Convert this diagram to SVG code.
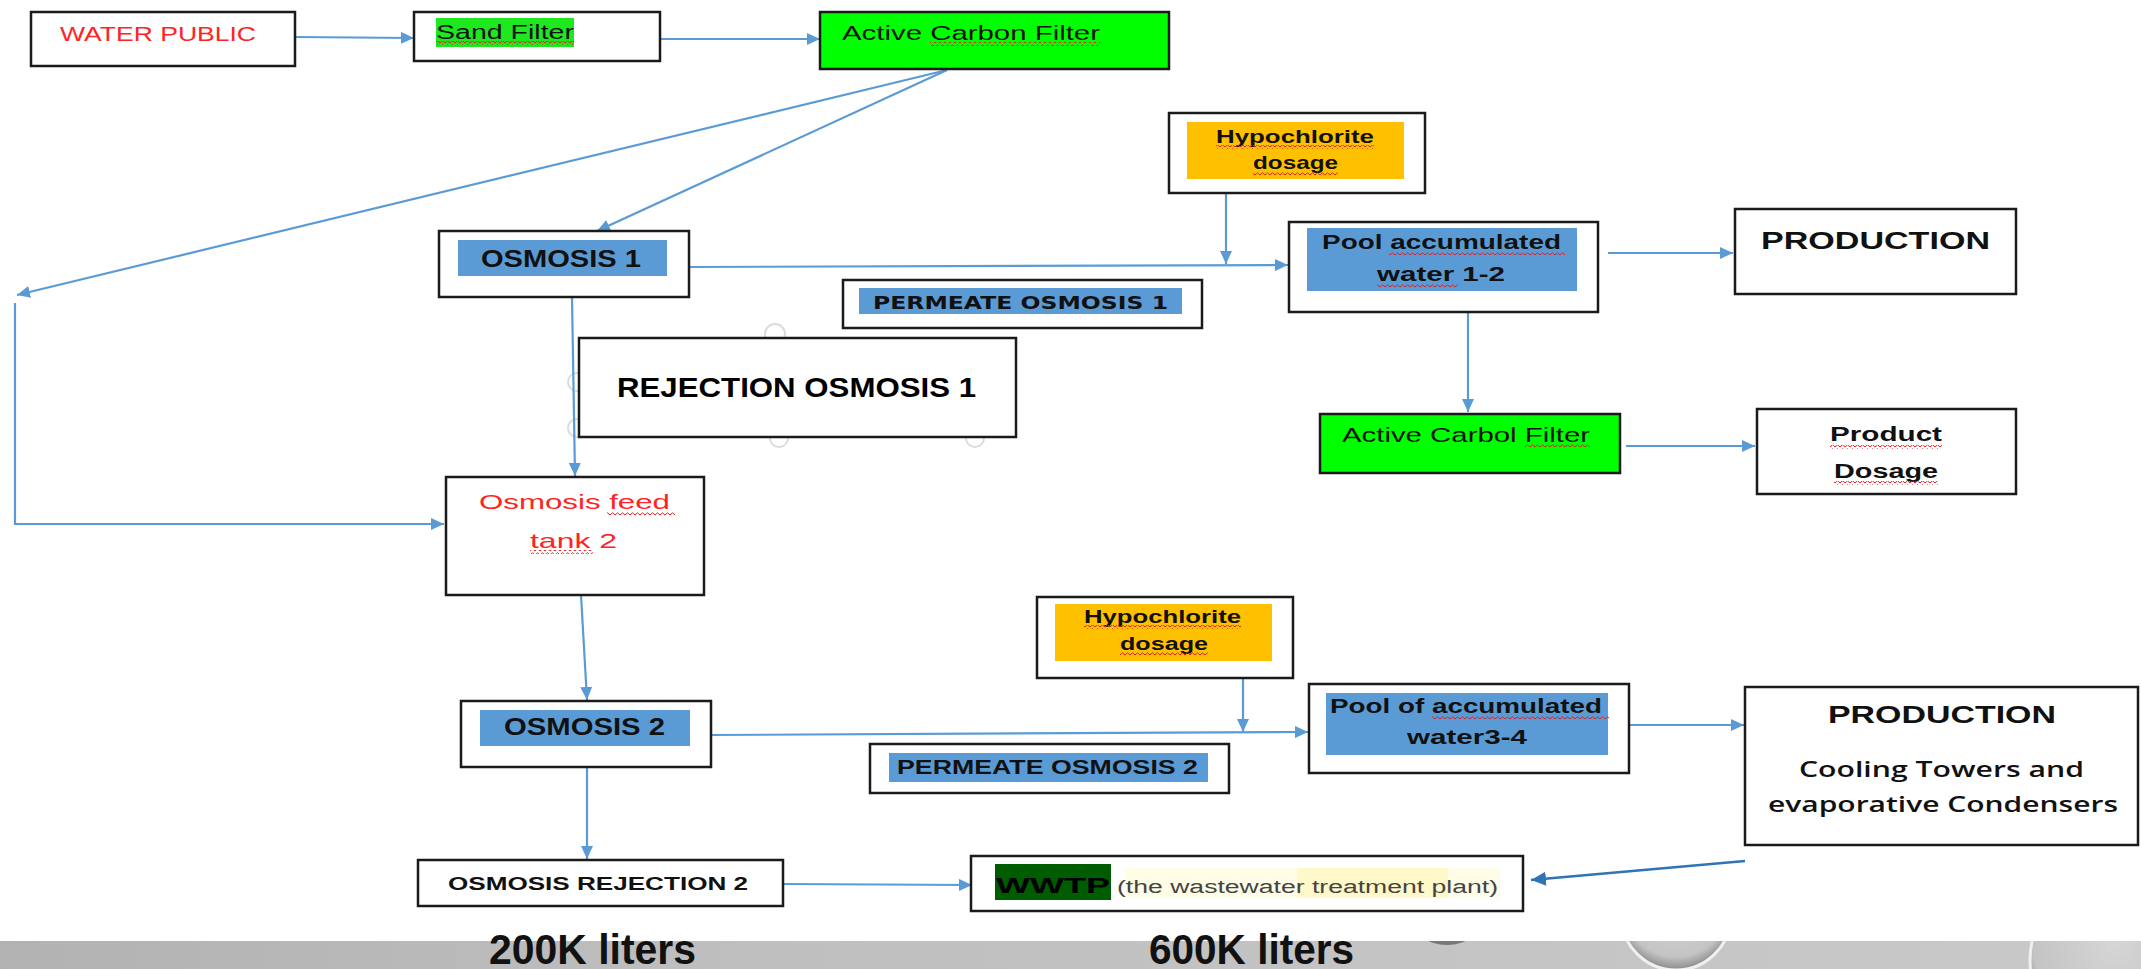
<svg xmlns="http://www.w3.org/2000/svg" width="2141" height="969" viewBox="0 0 2141 969">
<defs>
<style>
.box{fill:#fff;stroke:#1a1a1a;stroke-width:2.5}
.green{fill:#00ff00}
.blue{fill:#5b9bd5}
.orange{fill:#ffc000}
.c{fill:none;stroke:#5b9bd5;stroke-width:2.2}
.t{font-family:"Liberation Sans",Arial,sans-serif;fill:#111}
.b{font-weight:bold}
.red{fill:#ff2323}
.sq{fill:url(#squig)}
</style>
<pattern id="squig" x="0" y="0" width="5" height="4" patternUnits="userSpaceOnUse">
<path d="M0,3 L2.5,0.8 L5,3" fill="none" stroke="#e02020" stroke-width="1"/>
</pattern>
<marker id="ah" markerUnits="userSpaceOnUse" markerWidth="14" markerHeight="12" refX="13" refY="6" orient="auto">
<path d="M0,0 L13,6 L0,12 z" fill="#5b9bd5"/>
</marker>
<marker id="ah2" markerUnits="userSpaceOnUse" markerWidth="16" markerHeight="14" refX="15" refY="7" orient="auto">
<path d="M0,0 L15,7 L0,14 z" fill="#2e75b6"/>
</marker>
<linearGradient id="band" x1="0" y1="0" x2="1" y2="0">
<stop offset="0" stop-color="#b2b2b2"/>
<stop offset="0.35" stop-color="#bfbfbf"/>
<stop offset="1" stop-color="#c9c9c9"/>
</linearGradient>
<radialGradient id="bub" cx="0.5" cy="0.4" r="0.6">
<stop offset="0" stop-color="#d6d6d6"/>
<stop offset="0.8" stop-color="#c4c4c4"/>
<stop offset="1" stop-color="#8a8a8a"/>
</radialGradient>
<clipPath id="bandclip"><rect x="0" y="941" width="2141" height="28"/></clipPath>
</defs>

<rect x="0" y="0" width="2141" height="969" fill="#ffffff"/>

<g id="background">
<rect x="0" y="941" width="2141" height="28" fill="url(#band)"/>
<g clip-path="url(#bandclip)">
<ellipse cx="1447" cy="936" rx="22" ry="9" fill="#5a5a5a" opacity="0.7"/>
<circle cx="1676" cy="915" r="55" fill="url(#bub)" stroke="#f0f0f0" stroke-width="3"/>
<circle cx="2115" cy="960" r="85" fill="url(#bub)" stroke="#efefef" stroke-width="3"/>
</g>
<g fill="none" stroke="#dcdcdc" stroke-width="2">
<circle cx="775" cy="334" r="10"/>
<circle cx="577" cy="382" r="9"/>
<circle cx="577" cy="428" r="9"/>
<circle cx="779" cy="438" r="9"/>
<circle cx="975" cy="438" r="9"/>
</g>
<text class="t b" x="489" y="964" font-size="42" textLength="207" lengthAdjust="spacingAndGlyphs">200K liters</text>
<text class="t b" x="1149" y="964" font-size="42" textLength="205" lengthAdjust="spacingAndGlyphs">600K liters</text>
</g>

<g id="connectors">
<line class="c" x1="295" y1="37" x2="414" y2="38" marker-end="url(#ah)"/>
<line class="c" x1="660" y1="39" x2="820" y2="39" marker-end="url(#ah)"/>
<line class="c" x1="947" y1="70" x2="17" y2="295" marker-end="url(#ah)"/>
<line class="c" x1="947" y1="70" x2="597" y2="231" marker-end="url(#ah)"/>
<polyline class="c" points="15,303 15,524 444,524" marker-end="url(#ah)"/>
<line class="c" x1="689" y1="267" x2="1288" y2="265" marker-end="url(#ah)"/>
<line class="c" x1="1226" y1="193" x2="1226" y2="264" marker-end="url(#ah)"/>
<line class="c" x1="1608" y1="253" x2="1733" y2="253" marker-end="url(#ah)"/>
<line class="c" x1="1468" y1="310" x2="1468" y2="412" marker-end="url(#ah)"/>
<line class="c" x1="1626" y1="446" x2="1755" y2="446" marker-end="url(#ah)"/>
<line class="c" x1="572" y1="297" x2="575" y2="476" marker-end="url(#ah)"/>
<line class="c" x1="581" y1="595" x2="587" y2="700" marker-end="url(#ah)"/>
<line class="c" x1="711" y1="735" x2="1308" y2="732" marker-end="url(#ah)"/>
<line class="c" x1="1243" y1="678" x2="1243" y2="732" marker-end="url(#ah)"/>
<line class="c" x1="1621" y1="725" x2="1744" y2="725" marker-end="url(#ah)"/>
<line class="c" x1="587" y1="767" x2="587" y2="859" marker-end="url(#ah)"/>
<line class="c" x1="783" y1="884" x2="972" y2="885" marker-end="url(#ah)"/>
<line x1="1745" y1="861" x2="1531" y2="880" stroke="#2e75b6" stroke-width="2.6" marker-end="url(#ah2)"/>
</g>

<g id="water-public">
<rect class="box" x="31" y="12" width="264" height="54"/>
<text class="t red" x="60" y="41" font-size="20" textLength="196" lengthAdjust="spacingAndGlyphs">WATER PUBLIC</text>
</g>

<g id="sand-filter">
<rect class="box" x="414" y="12" width="246" height="49"/>
<rect x="436" y="18" width="138" height="29" fill="#1ee81e"/>
<text class="t" x="436" y="39" font-size="20" textLength="138" lengthAdjust="spacingAndGlyphs">Sand Filter</text>
<rect class="sq" x="436" y="41" width="138" height="4"/>
</g>

<g id="active-carbon-filter">
<rect class="box green" x="820" y="12" width="349" height="57"/>
<text class="t" x="842" y="40" font-size="20" textLength="258" lengthAdjust="spacingAndGlyphs">Active Carbon Filter</text>
<rect class="sq" x="930" y="42" width="170" height="4"/>
</g>

<g id="hypochlorite-dosage-1">
<rect class="box" x="1169" y="113" width="256" height="80"/>
<rect class="orange" x="1187" y="122" width="217" height="57"/>
<text class="t b" x="1216" y="143" font-size="19" textLength="158" lengthAdjust="spacingAndGlyphs">Hypochlorite</text>
<text class="t b" x="1253" y="169" font-size="19" textLength="85" lengthAdjust="spacingAndGlyphs">dosage</text>
<rect class="sq" x="1216" y="145" width="158" height="4"/>
<rect class="sq" x="1253" y="172" width="85" height="4"/>
</g>

<g id="osmosis-1">
<rect class="box" x="439" y="231" width="250" height="66"/>
<rect class="blue" x="458" y="240" width="209" height="36"/>
<text class="t b" x="481" y="267" font-size="23" textLength="160" lengthAdjust="spacingAndGlyphs">OSMOSIS 1</text>
</g>

<g id="permeate-osmosis-1">
<rect class="box" x="843" y="280" width="359" height="48"/>
<rect class="blue" x="859" y="288" width="323" height="26"/>
<text class="t b" x="873" y="309" font-size="17" textLength="295" lengthAdjust="spacingAndGlyphs" style="font-family:'DejaVu Sans',Verdana,sans-serif">PERMEATE OSMOSIS 1</text>
</g>

<g id="pool-accumulated-1-2">
<rect class="box" x="1289" y="222" width="309" height="90"/>
<rect class="blue" x="1307" y="228" width="270" height="63"/>
<text class="t b" x="1322" y="249" font-size="21" textLength="239" lengthAdjust="spacingAndGlyphs">Pool accumulated</text>
<text class="t b" x="1377" y="281" font-size="21" textLength="128" lengthAdjust="spacingAndGlyphs">water 1-2</text>
<rect class="sq" x="1389" y="251" width="176" height="4"/>
<rect class="sq" x="1377" y="284" width="81" height="4"/>
</g>

<g id="production-1">
<rect class="box" x="1735" y="209" width="281" height="85"/>
<text class="t b" x="1761" y="249" font-size="24" textLength="229" lengthAdjust="spacingAndGlyphs">PRODUCTION</text>
</g>

<g id="rejection-osmosis-1">
<rect class="box" x="579" y="338" width="437" height="99" stroke-width="3" stroke="#000"/>
<text class="t b" x="617" y="397" font-size="28" textLength="359" lengthAdjust="spacingAndGlyphs" style="fill:#000">REJECTION OSMOSIS 1</text>
</g>

<g id="active-carbol-filter">
<rect class="box green" x="1320" y="414" width="300" height="59"/>
<text class="t" x="1342" y="442" font-size="20" textLength="248" lengthAdjust="spacingAndGlyphs">Active Carbol Filter</text>
<rect class="sq" x="1525" y="444" width="65" height="4"/>
</g>

<g id="product-dosage">
<rect class="box" x="1757" y="409" width="259" height="85"/>
<text class="t b" x="1830" y="441" font-size="20" textLength="112" lengthAdjust="spacingAndGlyphs">Product</text>
<text class="t b" x="1834" y="478" font-size="20" textLength="104" lengthAdjust="spacingAndGlyphs">Dosage</text>
<rect class="sq" x="1830" y="445" width="112" height="4"/>
<rect class="sq" x="1834" y="481" width="104" height="4"/>
</g>

<g id="osmosis-feed-tank-2">
<rect class="box" x="446" y="477" width="258" height="118"/>
<text class="t red" x="479" y="509" font-size="21" textLength="191" lengthAdjust="spacingAndGlyphs">Osmosis feed</text>
<text class="t red" x="530" y="548" font-size="21" textLength="87" lengthAdjust="spacingAndGlyphs">tank 2</text>
<rect class="sq" x="607" y="512" width="68" height="4"/>
<rect class="sq" x="530" y="550" width="63" height="4"/>
</g>

<g id="hypochlorite-dosage-2">
<rect class="box" x="1037" y="597" width="256" height="81"/>
<rect class="orange" x="1055" y="604" width="217" height="57"/>
<text class="t b" x="1084" y="623" font-size="18" textLength="157" lengthAdjust="spacingAndGlyphs">Hypochlorite</text>
<text class="t b" x="1120" y="650" font-size="18" textLength="88" lengthAdjust="spacingAndGlyphs">dosage</text>
<rect class="sq" x="1084" y="625" width="157" height="4"/>
<rect class="sq" x="1120" y="652" width="88" height="4"/>
</g>

<g id="osmosis-2">
<rect class="box" x="461" y="701" width="250" height="66"/>
<rect class="blue" x="480" y="710" width="210" height="36"/>
<text class="t b" x="504" y="735" font-size="23" textLength="161" lengthAdjust="spacingAndGlyphs">OSMOSIS 2</text>
</g>

<g id="permeate-osmosis-2">
<rect class="box" x="870" y="744" width="359" height="49"/>
<rect class="blue" x="889" y="753" width="319" height="29"/>
<text class="t b" x="897" y="774" font-size="20" textLength="301" lengthAdjust="spacingAndGlyphs">PERMEATE OSMOSIS 2</text>
</g>

<g id="pool-accumulated-3-4">
<rect class="box" x="1309" y="684" width="320" height="89"/>
<rect class="blue" x="1326" y="693" width="282" height="62"/>
<text class="t b" x="1330" y="713" font-size="21" textLength="272" lengthAdjust="spacingAndGlyphs">Pool of accumulated</text>
<text class="t b" x="1407" y="744" font-size="21" textLength="120" lengthAdjust="spacingAndGlyphs">water3-4</text>
<rect class="sq" x="1432" y="715" width="177" height="4"/>
</g>

<g id="production-2">
<rect class="box" x="1745" y="687" width="393" height="158"/>
<text class="t b" x="1828" y="723" font-size="24" textLength="228" lengthAdjust="spacingAndGlyphs">PRODUCTION</text>
<text class="t" x="1799" y="777" font-size="21" font-weight="600" textLength="285" lengthAdjust="spacingAndGlyphs" style="font-family:'Open Sans','Liberation Sans',sans-serif">Cooling Towers and</text>
<text class="t" x="1768" y="812" font-size="21" font-weight="600" textLength="350" lengthAdjust="spacingAndGlyphs" style="font-family:'Open Sans','Liberation Sans',sans-serif">evaporative Condensers</text>
</g>

<g id="osmosis-rejection-2">
<rect class="box" x="418" y="860" width="365" height="46"/>
<text class="t b" x="448" y="890" font-size="19" textLength="300" lengthAdjust="spacingAndGlyphs">OSMOSIS REJECTION 2</text>
</g>

<g id="wwtp">
<rect class="box" x="971" y="856" width="552" height="55"/>
<rect x="995" y="864" width="116" height="36" fill="#005c00"/>
<rect x="1125" y="868" width="172" height="30" fill="#fffde6"/>
<rect x="1297" y="868" width="151" height="30" fill="#fff8c8"/>
<rect x="1448" y="868" width="52" height="30" fill="#fffde8"/>
<text class="t b" x="996" y="893" font-size="22" textLength="114" lengthAdjust="spacingAndGlyphs" style="fill:#000">WWTP</text>
<text class="t" x="1117" y="893" font-size="18" textLength="381" lengthAdjust="spacingAndGlyphs" style="fill:#444">(the wastewater treatment plant)</text>
</g>
</svg>
